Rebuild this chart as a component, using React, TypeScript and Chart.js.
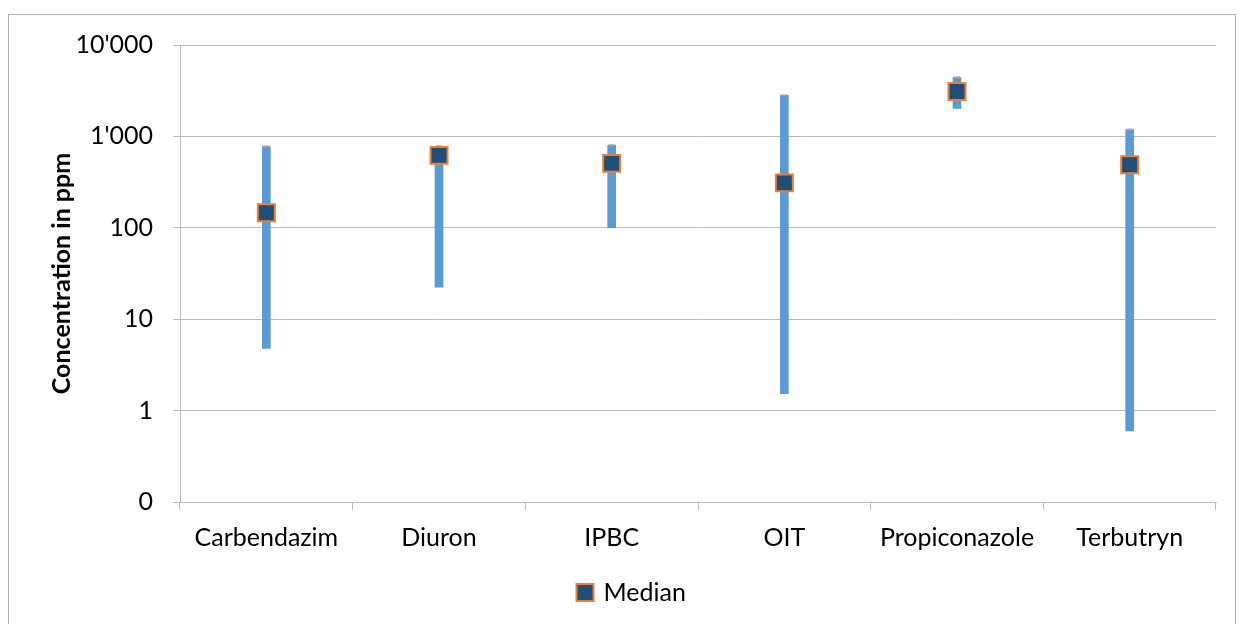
import React, { useEffect, useRef } from "react";
import { Chart, registerables } from "chart.js";

Chart.register(...registerables);

const categories = ["Carbendazim", "Diuron", "IPBC", "OIT", "Propiconazole", "Terbutryn"];
const minValues = [4.8, 22.4, 100, 1.53, 2020, 0.6];
const maxValues = [776, 780, 800, 2810, 4420, 1190];
const medianValues = [146, 620, 507, 310, 3100, 490];
const yTickValues = [0.1, 1, 10, 100, 1000, 10000];
const yTickLabels = ["0", "1", "10", "100", "1'000", "10'000"];

const FONT = "Lato, 'Noto Sans', sans-serif";
const GRID = "#BBBBBB";

export default function App() {
  const canvasRef = useRef<HTMLCanvasElement | null>(null);

  useEffect(() => {
    if (!canvasRef.current) return;
    const chart = new Chart(canvasRef.current, {
      type: "bar",
      data: {
        labels: categories,
        datasets: [
          {
            type: "line",
            label: "Median",
            data: medianValues,
            showLine: false,
            pointStyle: "rect",
            pointRadius: 12,
            pointHoverRadius: 12,
            backgroundColor: "#1F4E79",
            borderColor: "#ED7D31",
            borderWidth: 2,
            order: 0,
          } as any,
          {
            type: "line",
            label: "Max",
            data: maxValues,
            showLine: false,
            pointStyle: "line",
            pointRadius: 3,
            pointHoverRadius: 3,
            borderColor: "#A5A5A5",
            backgroundColor: "#A5A5A5",
            borderWidth: 2,
            order: 1,
          } as any,
          {
            type: "bar",
            label: "Range",
            data: categories.map((_, i) => [minValues[i], maxValues[i]]),
            backgroundColor: "#5B9BD5",
            barThickness: 8,
            order: 2,
          } as any,
        ],
      },
      options: {
        animation: false,
        responsive: true,
        maintainAspectRatio: false,
        layout: { padding: { top: 30, right: 19, bottom: 20, left: 40 } },
        plugins: {
          tooltip: { enabled: false },
          legend: {
            position: "bottom",
            labels: {
              filter: (item: any) => item.text === "Median",
              usePointStyle: true,
              pointStyle: "rect",
              boxWidth: 12,
              boxHeight: 17,
              color: "#000",
              padding: 10,
              font: { family: FONT, size: 25 },
            },
          },
        },
        scales: {
          x: {
            grid: {
              offset: true,
              drawOnChartArea: false,
              drawTicks: true,
              tickLength: 8,
              color: GRID,
            },
            border: { color: GRID },
            ticks: {
              color: "#000",
              padding: 13,
              font: { family: FONT, size: 25 },
              maxRotation: 0,
            },
            afterFit: (s: any) => {
              s.height = 68;
            },
          },
          y: {
            type: "logarithmic",
            min: 0.1,
            max: 10000,
            grid: { color: GRID, tickLength: 7 },
            border: { color: GRID },
            afterBuildTicks: (s: any) => {
              s.ticks = yTickValues.map((v) => ({ value: v }));
            },
            ticks: {
              color: "#000",
              padding: 20,
              font: { family: FONT, size: 25, lineHeight: 0.6 },
              callback: (_v: any, i: number) => yTickLabels[i],
            },
            title: {
              display: true,
              text: "Concentration in ppm",
              color: "#000",
              font: { family: FONT, size: 25, weight: "bold", lineHeight: 1 },
              padding: { top: 0, bottom: 0 },
            },
            afterFit: (s: any) => {
              s.width = 131;
            },
          },
        },
      } as any,
    });
    return () => chart.destroy();
  }, []);

  return (
    <div
      style={{
        marginTop: 6,
        width: 1226,
        height: 620,
        border: "1px solid #B3B3B3",
        position: "relative",
      }}
    >
      <canvas ref={canvasRef} />
    </div>
  );
}
